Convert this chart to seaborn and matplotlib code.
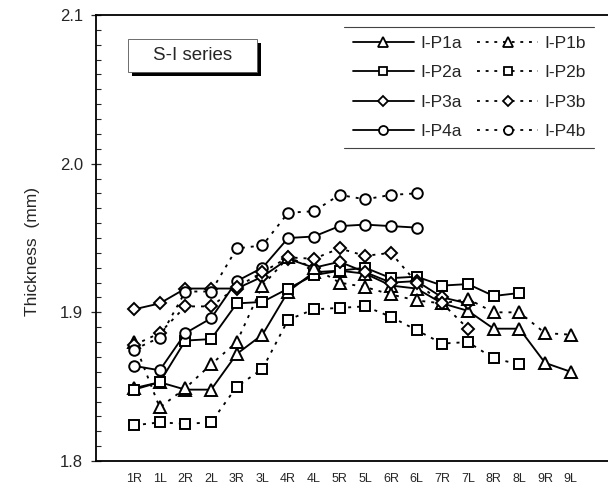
import numpy as np
import pandas as pd
import matplotlib
matplotlib.use("Agg")
import matplotlib.pyplot as plt
from matplotlib.patches import Rectangle
from matplotlib.lines import Line2D
from matplotlib.ticker import MultipleLocator, FormatStrFormatter
import seaborn as sns

# Measurement positions along the specimen
positions = ["1R", "1L", "2R", "2L", "3R", "3L", "4R", "4L", "5R",
             "5L", "6R", "6L", "7R", "7L", "8R", "8L", "9R", "9L"]

# Thickness (mm) for each specimen
p1a = [1.849, 1.853, 1.848, 1.848, 1.872, 1.885, 1.914, 1.927, 1.928,
       1.926, 1.918, 1.916, 1.906, 1.901, 1.889, 1.889, 1.866, 1.860]
p1b = [1.880, 1.836, 1.849, 1.865, 1.880, 1.918, 1.937, 1.930, 1.920,
       1.917, 1.912, 1.908, 1.906, 1.909, 1.900, 1.900, 1.886, 1.885]
p2a = [1.848, 1.853, 1.881, 1.882, 1.906, 1.907, 1.916, 1.925, 1.928,
       1.930, 1.923, 1.924, 1.918, 1.919, 1.911, 1.913]
p2b = [1.824, 1.826, 1.825, 1.826, 1.850, 1.862, 1.895, 1.902, 1.903,
       1.904, 1.897, 1.888, 1.879, 1.880, 1.869, 1.865]
p3a = [1.902, 1.906, 1.916, 1.916, 1.916, 1.924, 1.936, 1.930, 1.934,
       1.927, 1.920, 1.921, 1.910, 1.906]
p3b = [1.878, 1.886, 1.904, 1.904, 1.917, 1.927, 1.937, 1.936, 1.943,
       1.938, 1.940, 1.920, 1.906, 1.889]
p4a = [1.864, 1.861, 1.886, 1.896, 1.921, 1.930, 1.950, 1.951, 1.958,
       1.959, 1.958, 1.957]
p4b = [1.875, 1.883, 1.914, 1.914, 1.943, 1.945, 1.967, 1.968, 1.979,
       1.976, 1.979, 1.980]

dotted = (0, (1.6, 3.2))
series = [
    ("I-P1a", p1a, "^", "-"),
    ("I-P2a", p2a, "s", "-"),
    ("I-P3a", p3a, "D", "-"),
    ("I-P4a", p4a, "o", "-"),
    ("I-P1b", p1b, "^", dotted),
    ("I-P2b", p2b, "s", dotted),
    ("I-P3b", p3b, "D", dotted),
    ("I-P4b", p4b, "o", dotted),
]
marker_size = {"^": 8.0, "s": 7.4, "D": 5.8, "o": 7.6}

sns.set_style("white")
plt.rcParams["font.family"] = ["Liberation Sans", "DejaVu Sans"]

fig = plt.figure(figsize=(6.08, 4.96), dpi=100)
ax = fig.add_axes([96 / 608, 1 - 461 / 496, 1 - 96 / 608, (461 - 15) / 496])

handles = []
for name, vals, mk, ls in series:
    df = pd.DataFrame({"pos": np.arange(len(vals)), "thk": vals})
    sns.lineplot(data=df, x="pos", y="thk", ax=ax, color="black",
                 linestyle=ls, linewidth=1.35, marker=mk,
                 markersize=marker_size[mk], markerfacecolor="white",
                 markeredgecolor="black", markeredgewidth=1.4,
                 errorbar=None, sort=False, legend=False)
    handles.append(Line2D([], [], color="black", linestyle=ls, linewidth=1.3,
                          marker=mk, markersize=marker_size[mk] * 0.85,
                          markerfacecolor="white", markeredgecolor="black",
                          markeredgewidth=1.3, label=name))

ax.set_xlim(-1.48, 18.45)
ax.set_ylim(1.8, 2.1)
ax.set_xticks(np.arange(len(positions)))
ax.set_xticklabels(positions, fontsize=9)
ax.yaxis.set_major_locator(MultipleLocator(0.1))
ax.yaxis.set_minor_locator(MultipleLocator(0.01))
ax.yaxis.set_major_formatter(FormatStrFormatter("%.1f"))
ax.tick_params(axis="y", which="major", direction="inout", length=7,
               width=0.9, labelsize=12, pad=6, left=True)
ax.tick_params(axis="y", which="minor", direction="in", length=3.5,
               width=0.8, left=True)
ax.tick_params(axis="x", length=0, pad=9)
ax.set_xlabel("")
ax.set_ylabel("Thickness  (mm)", fontsize=12.5)
ax.yaxis.set_label_coords(-0.11, 0.47)

for side in ("left", "bottom", "top"):
    ax.spines[side].set_visible(True)
    ax.spines[side].set_color("black")
    ax.spines[side].set_linewidth(1.3)
ax.spines["right"].set_visible(False)

# Series label box with drop shadow
bx, by, bw, bh = 0.0625, 0.872, 0.252, 0.074
ax.add_patch(Rectangle((bx + 0.008, by - 0.009), bw, bh, transform=ax.transAxes,
                       facecolor="black", edgecolor="none", zorder=5))
ax.add_patch(Rectangle((bx, by), bw, bh, transform=ax.transAxes,
                       facecolor="white", edgecolor="#555555", linewidth=0.6,
                       zorder=6))
ax.text(bx + bw / 2, by + bh / 2, "S-I series", transform=ax.transAxes,
        ha="center", va="center", fontsize=13.5, zorder=7)

leg = ax.legend(handles=handles, ncol=2, loc="upper right",
                bbox_to_anchor=(0.973, 0.973), frameon=False, fontsize=12.5,
                handlelength=3.5, handletextpad=0.35, columnspacing=0.9,
                labelspacing=0.82, borderpad=0.5, borderaxespad=0.0,
                numpoints=1)

fig.canvas.draw()
bb = leg.get_window_extent().transformed(ax.transAxes.inverted())
for yy in (bb.y0, bb.y1):
    ax.add_line(Line2D([bb.x0, bb.x1], [yy, yy], transform=ax.transAxes,
                       color="#444444", linewidth=0.8, clip_on=False))

fig.savefig("out.png", dpi=100)
